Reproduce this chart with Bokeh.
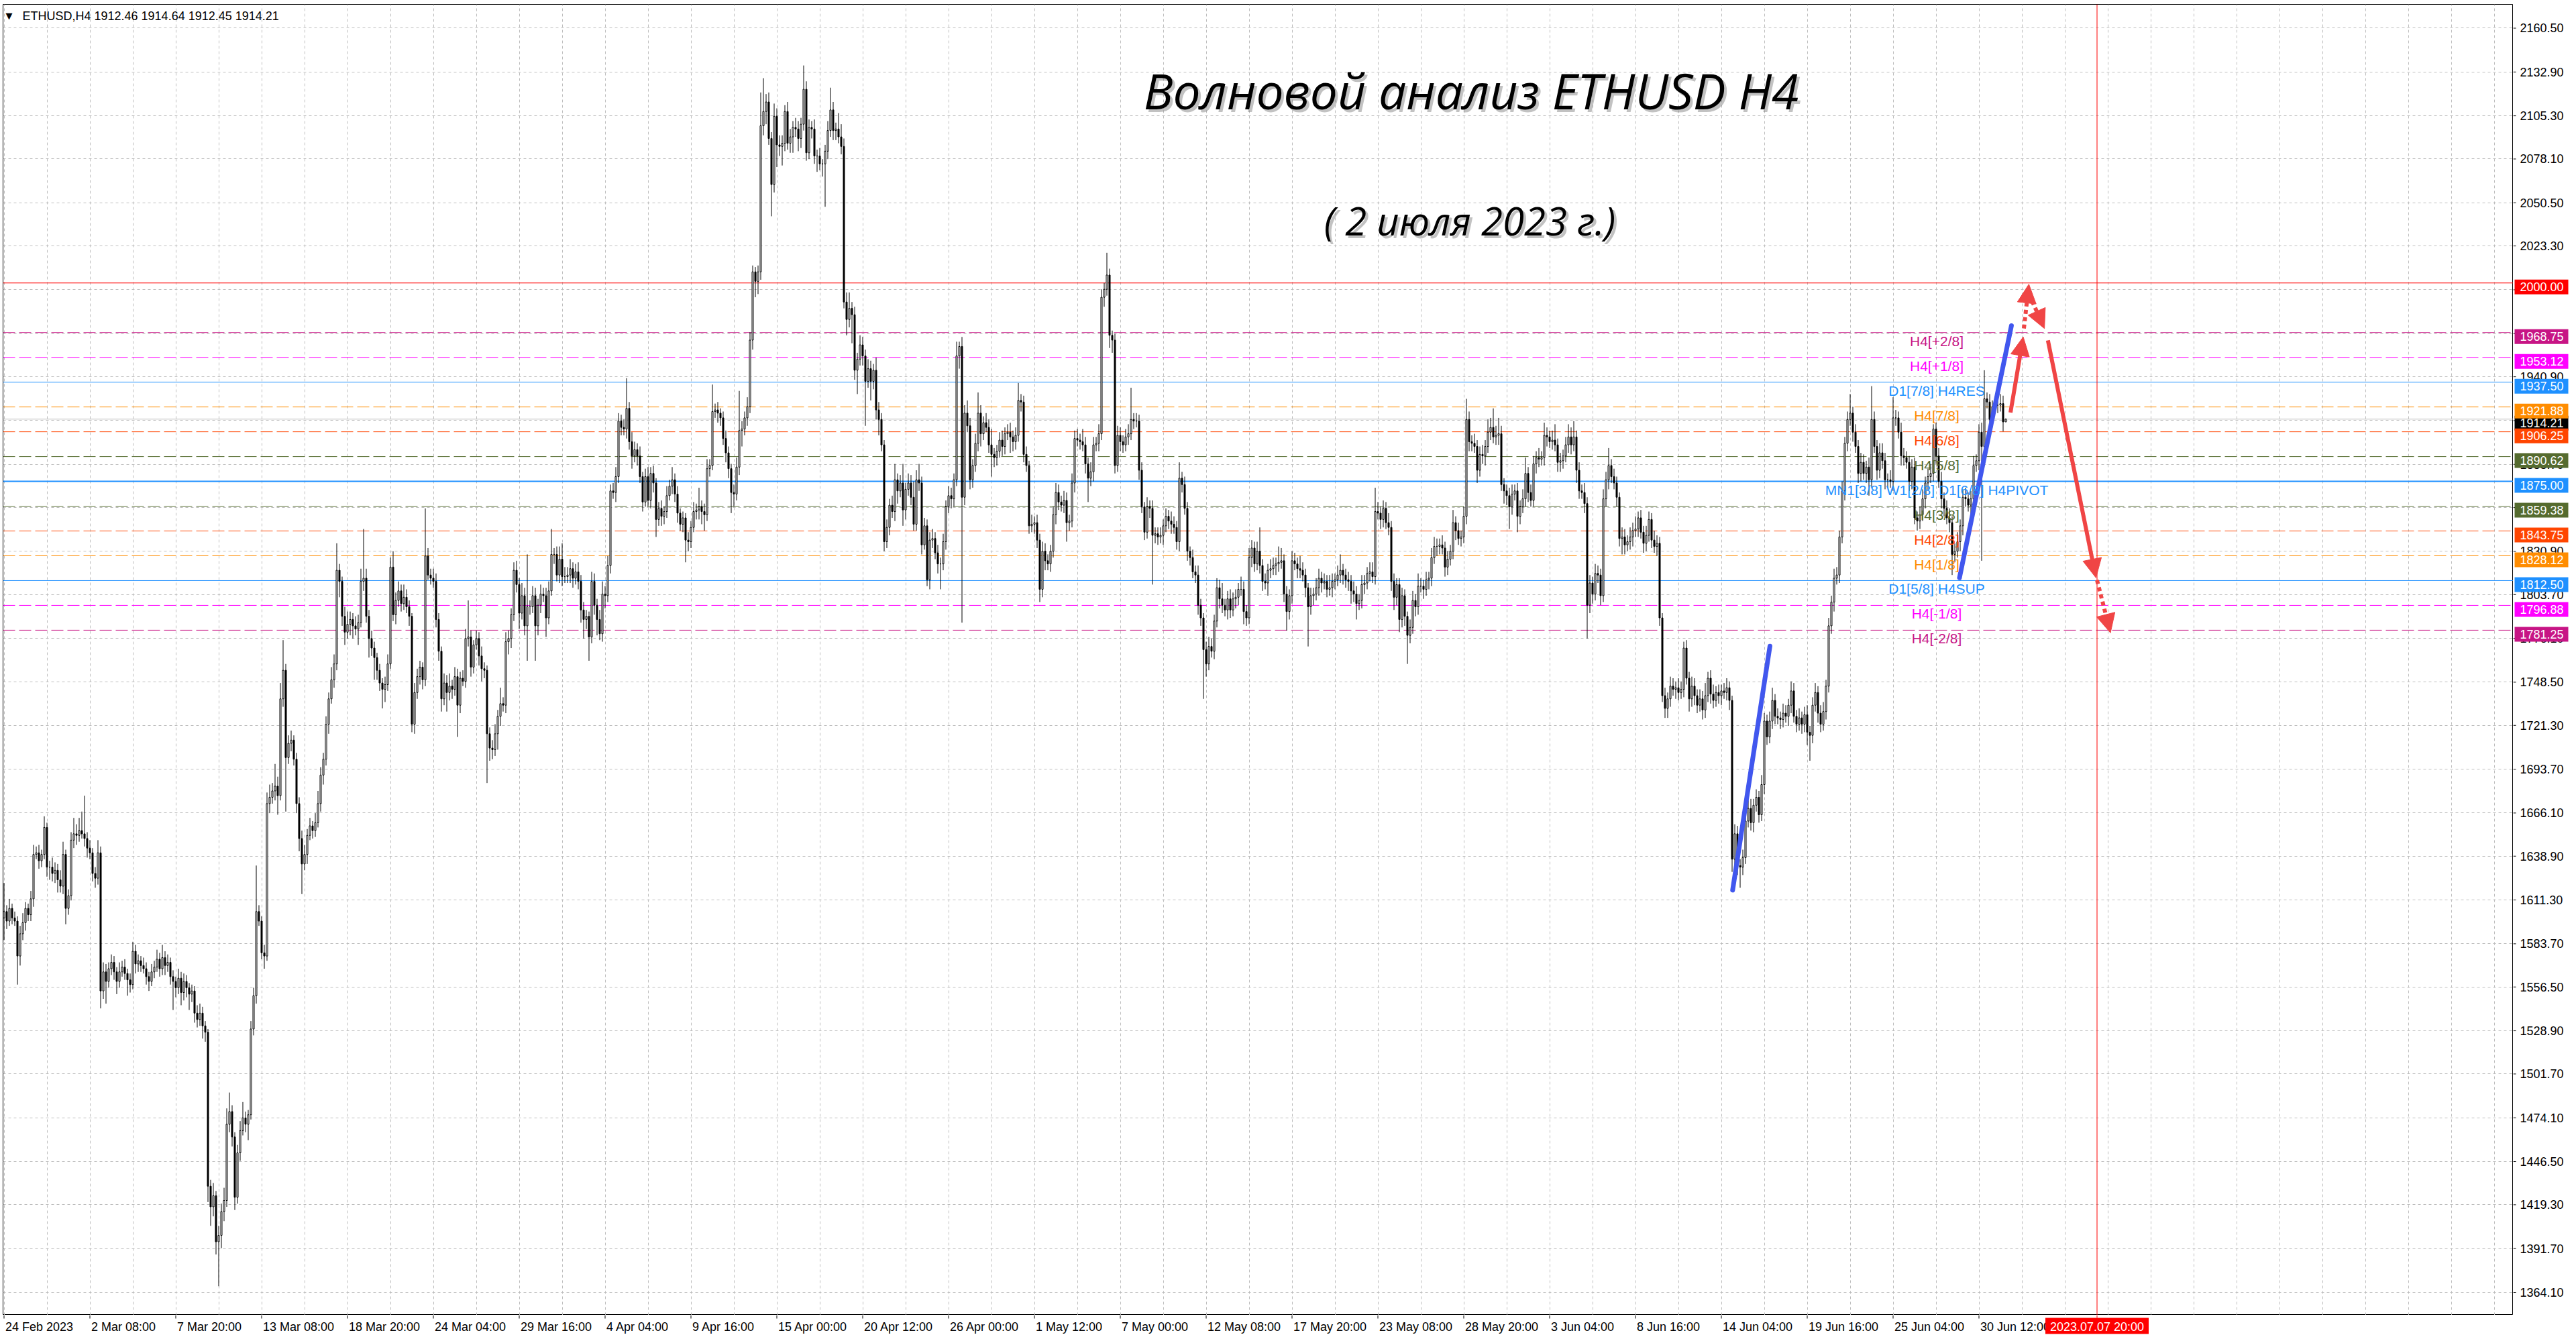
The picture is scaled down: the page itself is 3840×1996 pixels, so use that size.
from bokeh.plotting import figure
from bokeh.models import FixedTicker, Range1d, Span, Label, Arrow, NormalHead, ColumnDataSource
from bokeh.layouts import row, column
from bokeh.core.properties import value
from bokeh.embed import file_html
from bokeh.resources import INLINE

# ---------------- data (ETHUSD H4) ----------------
first_open = 1600
close_a = [1604,1598,1606,1600,1598,1576,1590,1597,1606,1602,
           1612,1640,1641,1636,1640,1657,1632,1632,1628,1630,
           1624,1620,1640,1606,1614,1649,1653,1652,1655,1653,
           1650,1644,1641,1628,1625,1641,1554,1566,1560,1568,
           1572,1566,1560,1566,1569,1565,1561,1558,1579,1571,
           1573,1570,1568,1563,1560,1566,1569,1574,1568,1575,
           1570,1572,1563,1560,1556,1562,1553,1560,1556,1552,
           1554,1540,1536,1540,1532,1528,1431,1418,1425,1396,
           1400,1415,1422,1470,1478,1462,1424,1452,1466,1474,
           1470,1476,1530,1551,1604,1598,1578,1576,1672,1676,
           1680,1683,1677,1738,1756,1701,1710,1712,1700,1672,
           1650,1634,1640,1652,1658,1655,1660,1672,1690,1700,
           1722,1738,1750,1760,1819,1812,1790,1780,1785,1788,
           1784,1782,1786,1812,1814,1790,1776,1770,1764,1756,
           1748,1744,1747,1760,1821,1791,1800,1806,1798,1802]
close_b = [1796,1790,1722,1742,1752,1758,1750,1828,1816,1814,
           1812,1788,1768,1738,1748,1742,1746,1744,1752,1734,
           1751,1749,1776,1777,1758,1772,1776,1765,1757,1756,
           1716,1707,1706,1716,1727,1735,1734,1774,1776,1791,
           1819,1810,1792,1803,1784,1796,1796,1803,1784,1797,
           1804,1803,1789,1806,1829,1829,1816,1826,1815,1815,
           1816,1820,1814,1818,1812,1794,1788,1790,1777,1812,
           1797,1788,1779,1804,1803,1822,1869,1868,1878,1913,
           1909,1908,1921,1900,1891,1895,1891,1878,1862,1878,
           1863,1880,1874,1851,1858,1853,1856,1866,1872,1876,
           1867,1855,1848,1852,1838,1837,1846,1856,1857,1859,
           1856,1854,1883,1885,1919,1920,1918,1915,1902,1893,
           1883,1868,1867,1884,1907,1908,1915,1922,1964,2007,
           2001,2007,2099,2108,2114,2091,2062,2105,2087,2086,
           2088,2108,2088,2092,2098,2097,2091,2100,2122,2082]
close_c = [2098,2097,2080,2080,2075,2075,2083,2096,2109,2096,
           2097,2092,2086,1988,1977,1984,1980,1945,1952,1961,
           1954,1938,1946,1938,1945,1920,1914,1898,1837,1846,
           1860,1856,1876,1869,1874,1857,1870,1874,1865,1848,
           1876,1874,1835,1847,1813,1838,1839,1830,1823,1823,
           1837,1859,1866,1864,1876,1954,1960,1865,1918,1910,
           1876,1885,1899,1918,1905,1912,1909,1898,1892,1890,
           1894,1901,1897,1905,1906,1903,1900,1904,1926,1925,
           1892,1885,1847,1848,1849,1838,1807,1831,1825,1823,
           1831,1854,1868,1862,1860,1863,1849,1850,1874,1902,
           1901,1900,1898,1886,1877,1881,1898,1899,1905,1991,
           1996,2005,1967,1964,1885,1904,1900,1898,1903,1905,
           1914,1913,1913,1882,1859,1843,1859,1858,1841,1842,
           1840,1841,1847,1853,1850,1848,1846,1837,1877,1873,
           1858,1831,1827,1818,1816,1797,1789,1769,1760,1771]
close_d = [1768,1787,1808,1801,1797,1794,1801,1794,1801,1802,
           1807,1807,1793,1789,1827,1833,1823,1831,1822,1812,
           1811,1819,1820,1822,1823,1824,1825,1804,1793,1803,
           1825,1823,1820,1819,1816,1808,1796,1803,1804,1808,
           1814,1811,1812,1807,1808,1812,1813,1816,1819,1816,
           1813,1812,1806,1804,1798,1800,1810,1811,1817,1818,
           1815,1856,1855,1851,1858,1849,1846,1812,1802,1810,
           1788,1803,1790,1778,1783,1800,1796,1809,1809,1807,
           1813,1814,1827,1834,1834,1835,1833,1821,1826,1831,
           1849,1844,1839,1840,1853,1914,1900,1899,1897,1882,
           1892,1891,1897,1906,1909,1903,1904,1905,1873,1869,
           1866,1859,1867,1869,1853,1859,1864,1880,1868,1863,
           1886,1890,1889,1890,1904,1903,1900,1901,1898,1887,
           1888,1891,1898,1903,1898,1903,1882,1869,1868,1861,
           1797,1811,1804,1817,1816,1803,1864,1876,1885,1878]
close_e = [1874,1865,1839,1840,1835,1837,1840,1844,1845,1852,
           1843,1836,1841,1851,1838,1834,1836,1789,1740,1732,
           1738,1746,1744,1745,1742,1744,1770,1751,1738,1746,
           1740,1734,1738,1731,1740,1751,1741,1737,1742,1740,
           1743,1742,1745,1737,1637,1653,1633,1632,1638,1661,
           1669,1660,1671,1676,1665,1684,1724,1714,1724,1737,
           1727,1726,1725,1729,1727,1734,1743,1727,1722,1726,
           1722,1728,1717,1715,1734,1742,1729,1722,1730,1746,
           1784,1799,1814,1816,1840,1869,1899,1914,1918,1906,
           1897,1880,1887,1880,1884,1876,1914,1897,1882,1893,
           1888,1876,1876,1875,1915,1915,1906,1891,1890,1887,
           1875,1884,1852,1850,1854,1864,1874,1878,1880,1908,
           1891,1875,1864,1858,1852,1849,1829,1831,1837,1847,
           1865,1864,1860,1864,1885,1888,1906,1897,1927,1925,
           1914,1922,1923,1923,1924,1912.46,1914.21]

upper_wick_a = [18,4,6,3,4,3,5,6,4,3, 5,6,4,5,3,7,3,4,6,5, 4,6,8,3,4,5,10,6,8,12,
                24,4,5,3,4,8,4,6,5,4, 5,4,3,6,4,5,3,4,6,4, 4,3,5,4,3,5,4,6,4,8,
                4,5,3,4,3,6,4,5,4,3, 4,3,5,6,4,3,2,4,8,3, 6,5,8,10,12,4,3,5,6,10,
                4,3,5,5,29,4,3,5,7,8, 5,14,6,10,19,4,5,6,3,4, 4,5,6,4,5,3,6,8,5,4,
                5,4,8,6,17,4,3,6,8,5, 4,6,5,8,31,6,4,5,4,3, 4,3,5,6,6,10,5,6,4,8]
lower_wick_a = [14,5,3,4,3,18,6,4,5,4, 4,5,3,5,4,3,6,8,5,6, 8,4,5,10,4,3,5,6,4,3,
                5,6,4,5,6,4,11,5,14,4, 4,5,8,4,3,4,10,5,3,6, 5,4,3,5,6,3,4,3,5,4,
                6,4,5,18,6,4,8,5,6,10, 5,6,5,4,8,6,10,12,6,8, 28,8,6,4,5,6,8,4,5,3,
                5,10,3,4,5,3,4,8,3,6, 4,6,12,3,5,34,4,5,4,6, 8,19,4,6,3,5,4,3,5,6,
                4,6,3,5,4,10,6,8,4,7, 8,4,10,3,6,4,12,5,14,6, 5,12,8,4,3,4,6,4,5,4]
upper_wick_b = [5,4,2,6,5,4,3,30,5,4, 6,5,4,3,6,5,8,4,6,5, 4,5,6,23,4,3,5,4,6,4,
                3,4,5,6,4,10,4,6,5,4, 5,6,4,8,5,33,4,6,5,4, 6,4,5,6,16,4,5,8,10,6,
                5,6,4,5,6,4,5,4,3,6, 5,4,6,8,5,6,4,5,6,5, 4,5,19,4,6,5,4,6,3,5,
                6,4,5,3,4,5,3,6,4,8, 4,5,3,4,3,5,4,6,4,12, 4,5,6,4,17,4,5,3,4,5,
                4,3,5,6,25,5,4,6,5,4, 3,4,21,21,5,6,4,8,5,6, 5,4,6,5,4,6,5,4,15,5]
lower_wick_b = [4,6,5,6,4,5,6,4,3,4, 4,5,6,8,4,12,5,6,4,20, 5,3,4,5,6,4,3,6,8,5,
                31,8,6,4,10,6,4,5,8,6, 4,5,10,4,6,22,5,4,22,6, 5,4,12,4,3,6,4,5,6,4,
                4,5,6,4,5,8,12,6,15,4, 6,10,4,5,8,4,5,4,6,4, 5,4,6,5,8,4,6,4,6,3,
                4,5,6,11,4,6,5,4,3,5, 5,6,4,5,14,6,4,3,5,6, 8,10,4,5,3,4,6,5,4,6,
                6,13,8,4,5,10,4,5,4,6, 10,8,5,6,8,4,20,5,14,6, 12,5,4,6,10,5,8,6,4,5]
upper_wick_c = [5,4,6,4,5,3,4,6,14,5, 4,10,8,5,6,10,4,5,4,6, 5,4,6,5,4,8,5,4,3,5,
                4,6,10,4,5,12,4,6,5,10, 6,10,4,5,4,5,6,4,5,4, 5,4,6,5,4,9,3,6,5,8,
                5,4,6,13,5,4,6,5,10,4, 4,5,6,4,5,6,4,5,11,4, 4,5,3,6,4,5,4,6,5,4,
                4,5,6,5,4,6,5,4,6,5, 6,4,8,5,4,6,5,4,6,5, 4,14,4,3,4,6,5,4,5,6,
                20,4,5,4,5,3,6,4,5,4, 4,5,4,5,4,6,5,4,10,4, 5,4,3,5,4,6,4,3,5,6]
lower_wick_c = [4,6,5,10,4,8,27,5,4,6, 6,4,5,4,10,5,18,6,15,4, 6,28,4,12,5,6,10,4,6,4,
                5,4,6,8,4,10,6,4,5,4, 4,5,6,3,4,6,5,4,6,16, 4,5,4,6,5,4,8,79,5,4,
                6,5,4,5,8,4,3,5,14,6, 5,4,6,5,4,10,6,5,4,6, 5,4,5,4,6,5,8,5,6,4,
                5,4,6,5,4,5,12,5,4,6, 4,5,4,6,15,5,6,4,5,4, 6,4,8,8,5,4,6,5,4,5,
                4,5,4,6,4,5,4,6,31,5, 5,4,6,4,5,6,4,5,6,5, 4,6,5,4,5,6,5,31,8,4]
upper_wick_d = [5,4,6,5,10,4,5,6,4,5, 4,8,5,4,6,5,4,6,15,4, 5,4,6,5,4,10,8,4,5,4,
                6,5,4,8,5,4,3,5,4,6, 6,4,5,4,8,5,4,6,10,4, 4,5,4,6,5,4,6,5,4,6,
                6,15,6,4,5,4,6,4,5,4, 4,5,4,3,5,6,4,8,5,4, 5,4,6,6,5,4,6,4,5,4,
                8,4,5,4,6,13,5,4,6,4, 5,6,4,8,6,12,6,10,5,4, 4,5,6,4,5,4,6,10,4,5,
                5,4,6,4,8,5,4,6,10,4, 5,4,5,8,6,10,4,5,4,6, 4,5,4,6,5,4,6,5,11,4]
lower_wick_d = [4,5,4,6,5,4,6,5,4,6, 5,4,8,5,4,6,5,4,5,6, 4,8,5,4,6,5,4,5,12,5,
                5,4,6,5,4,6,25,5,6,4, 5,6,4,5,4,6,5,4,5,6, 5,6,8,5,10,4,5,6,4,5,
                4,5,4,6,5,4,5,6,8,5, 8,5,6,18,5,4,6,5,4,6, 4,6,5,4,6,5,4,6,5,4,
                5,6,4,5,4,5,6,5,4,8, 4,5,6,4,5,4,5,6,4,8, 6,14,5,4,10,5,4,5,6,4,
                4,6,5,4,5,6,4,5,4,6, 6,5,4,5,6,4,8,5,4,6, 21,5,6,4,5,6,4,5,6,4]
upper_wick_e = [5,4,3,6,5,4,6,5,8,4, 5,4,6,5,4,6,5,4,3,5, 4,6,5,4,6,5,4,5,4,6,
                5,4,6,5,8,4,5,6,4,5, 4,5,6,4,3,6,5,4,5,4, 5,6,4,5,4,6,5,4,6,8,
                4,5,4,6,5,4,6,5,4,6, 4,5,6,4,5,6,4,5,6,4, 5,4,6,5,4,6,4,5,12,4,
                5,4,6,5,4,6,21,5,4,6, 6,5,4,6,13,5,4,6,5,4, 4,5,6,4,5,6,4,5,6,3,
                4,5,6,4,5,6,4,5,6,4, 5,6,4,5,6,4,5,6,18,4, 5,4,5,4,6,5,0.43]
lower_wick_e = [4,6,5,10,6,4,5,6,4,5, 4,6,5,4,5,4,6,5,4,6, 6,5,4,6,5,4,5,4,8,5,
                6,5,4,6,5,4,6,5,4,5, 6,4,5,6,8,5,6,13,5,4, 4,5,6,4,5,4,6,5,4,5,
                5,4,6,5,4,6,5,4,5,4, 6,5,8,16,5,4,6,5,4,5, 4,5,6,4,5,4,6,5,4,6,
                4,6,5,4,6,10,5,4,6,5, 5,6,5,4,6,5,4,6,5,4, 6,5,4,6,5,4,6,5,4,5,
                5,4,6,5,4,6,13,5,4,6, 6,5,4,6,5,4,6,72,5,4, 6,5,4,5,4,6,0.01]

date_labels = ["24 Feb 2023", "2 Mar 08:00", "7 Mar 20:00", "13 Mar 08:00", "18 Mar 20:00",
               "24 Mar 04:00", "29 Mar 16:00", "4 Apr 04:00", "9 Apr 16:00", "15 Apr 00:00",
               "20 Apr 12:00", "26 Apr 00:00", "1 May 12:00", "7 May 00:00", "12 May 08:00",
               "17 May 20:00", "23 May 08:00", "28 May 20:00", "3 Jun 04:00", "8 Jun 16:00",
               "14 Jun 04:00", "19 Jun 16:00", "25 Jun 04:00", "30 Jun 12:00"]
date_label_step = 32
price_ticks = [2160.50, 2132.90, 2105.30, 2078.10, 2050.50, 2023.30, 1995.70, 1968.10, 1940.90,
               1913.30, 1885.70, 1858.50, 1830.90, 1803.70, 1776.10, 1748.50, 1721.30, 1693.70,
               1666.10, 1638.90, 1611.30, 1583.70, 1556.50, 1528.90, 1501.70, 1474.10, 1446.50,
               1419.30, 1391.70, 1364.10]

# horizontal levels: price, colour, dash, width
level_prices = [2000.00, 1968.75, 1953.12, 1937.50, 1921.88, 1914.21, 1906.25, 1890.62,
                1875.00, 1859.38, 1843.75, 1828.12, 1812.50, 1796.88, 1781.25]
level_colors = ["#FF0000", "#C71585", "#FF00FF", "#1E90FF", "#FF8C00", "#C0C0C0", "#FF4500",
                "#556B2F", "#1E90FF", "#556B2F", "#FF4500", "#FF8C00", "#1E90FF", "#FF00FF", "#C71585"]
level_box_colors = ["#FF0000", "#C71585", "#FF00FF", "#1E90FF", "#FF8C00", "#000000", "#FF4500",
                    "#556B2F", "#1E90FF", "#556B2F", "#FF4500", "#FF8C00", "#1E90FF", "#FF00FF", "#C71585"]
level_dashed = [False, True, True, False, True, False, True, True, False, True, True, True, False, True, True]
level_widths = [1, 1, 1, 1, 1, 1, 1, 1, 2, 1, 1, 1, 1, 1, 1]

murrey_texts = ["H4[+2/8]", "H4[+1/8]", "D1[7/8] H4RES", "H4[7/8]", "H4[6/8]", "H4[5/8]",
                "MN1[3/8] W1[2/8] D1[6/8] H4PIVOT", "H4[3/8]", "H4[2/8]", "H4[1/8]",
                "D1[5/8] H4SUP", "H4[-1/8]", "H4[-2/8]"]
murrey_prices = [1968.75, 1953.12, 1937.50, 1921.88, 1906.25, 1890.62, 1875.00, 1859.38,
                 1843.75, 1828.12, 1812.50, 1796.88, 1781.25]
murrey_colors = ["#C71585", "#FF00FF", "#1E90FF", "#FF8C00", "#FF4500", "#556B2F", "#1E90FF",
                 "#556B2F", "#FF4500", "#FF8C00", "#1E90FF", "#FF00FF", "#C71585"]
murrey_bar = 720.25

# drawn wave lines (bar index, price)
wave1_x = [644.2, 658.1]
wave1_y = [1617.5, 1771.2]
wave2_x = [728.75, 748.1]
wave2_y = [1814.3, 1973.1]
# forecast arrows
arrow_x0 = [747.75, 752.75, 755.8, 761.7, 780.0]
arrow_y0 = [1918.4, 1971.3, 1988.6, 1963.8, 1812.8]
arrow_x1 = [752.5, 754.6, 760.4, 779.6, 785.0]
arrow_y1 = [1966.0, 1999.2, 1971.3, 1814.3, 1779.6]
arrow_dotted = [False, True, True, False, True]
forecast_bar = 780
forecast_label = "2023.07.07 20:00"
header_text = "ETHUSD,H4  1912.46 1914.64 1912.45 1914.21"
title_text = "Волновой анализ ETHUSD H4"
subtitle_text = "( 2 июля 2023 г.)"

# ---------------- build OHLC ----------------
close = close_a + close_b + close_c + close_d + close_e
upper_wick = upper_wick_a + upper_wick_b + upper_wick_c + upper_wick_d + upper_wick_e
lower_wick = lower_wick_a + lower_wick_b + lower_wick_c + lower_wick_d + lower_wick_e
n = min(len(close), len(upper_wick), len(lower_wick))
close = close[:n]
opens = [first_open] + close[:-1]
bars = list(range(n))
highs = [max(o, c) + u for o, c, u in zip(opens, close, upper_wick)]
lows = [min(o, c) - l for o, c, l in zip(opens, close, lower_wick)]
tops = [max(o, c) for o, c in zip(opens, close)]
bottoms = [min(o, c) for o, c in zip(opens, close)]
fills = ["white" if c >= o else "black" for o, c in zip(opens, close)]
src = ColumnDataSource(dict(x=bars, high=highs, low=lows, top=tops, bottom=bottoms, fill=fills))

# ---------------- layout constants ----------------
LEFT, TOP = 4, 6
FRAME_W, FRAME_H = 3742, 1954
SCALE_W, TIME_H = 94, 36
BAR_PX = 4.0
UI_FONT = "Liberation Sans"
UI_SIZE = "18px"
x_range = Range1d(-0.375, -0.375 + FRAME_W / BAR_PX)
y_range = Range1d(1349.74, 2175.50)
px_per_price = FRAME_H / (y_range.end - y_range.start)

# ---------------- main chart ----------------
p = figure(frame_width=FRAME_W, frame_height=FRAME_H, x_range=x_range, y_range=y_range,
           output_backend="svg", toolbar_location=None,
           x_axis_location=None, y_axis_location=None,
           min_border=0, min_border_left=LEFT, min_border_top=TOP,
           background_fill_color="white", border_fill_color="white",
           outline_line_color="black", outline_line_width=1)
p.xgrid.ticker = FixedTicker(ticks=list(range(0, 936, 16)))
p.ygrid.ticker = FixedTicker(ticks=price_ticks)
for g in (p.xgrid, p.ygrid):
    g.grid_line_color = "#BDBDBD"
    g.grid_line_dash = "4 4"
    g.grid_line_width = 1

for price, col, dashed, w in zip(level_prices, level_colors, level_dashed, level_widths):
    p.add_layout(Span(location=price, dimension="width", line_color=col, line_width=w,
                      line_dash="18 6" if dashed else "solid", level="underlay"))
p.add_layout(Span(location=forecast_bar, dimension="height", line_color="#FF0000",
                  line_width=1, level="underlay"))

p.segment(x0="x", y0="high", x1="x", y1="low", source=src, line_color="black", line_width=1)
p.vbar(x="x", width=0.5, top="top", bottom="bottom", source=src,
       fill_color="fill", line_color="black", line_width=1)

for t, pr, col in zip(murrey_texts, murrey_prices, murrey_colors):
    p.add_layout(Label(x=murrey_bar, y=pr, text=t, text_color=col, text_font="Liberation Sans",
                       text_font_size="21px", text_align="center", text_baseline="top", y_offset=-1))

p.line(wave1_x, wave1_y, line_color="#4157EE", line_width=7, line_cap="round")
p.line(wave2_x, wave2_y, line_color="#4157EE", line_width=7, line_cap="round")

for x0, y0, x1, y1, dotted in zip(arrow_x0, arrow_y0, arrow_x1, arrow_y1, arrow_dotted):
    p.add_layout(Arrow(x_start=x0, y_start=y0, x_end=x1, y_end=y1,
                       line_color="#F04545", line_width=6,
                       line_dash="6 5" if dotted else "solid",
                       end=NormalHead(size=28, fill_color="#F04545", line_color="#F04545")))

p.add_layout(Label(x=4, y=FRAME_H - 9, x_units="screen", y_units="screen", text="▼",
                   text_font="DejaVu Sans", text_font_size="13px", text_baseline="top",
                   text_color="black"))
p.add_layout(Label(x=29, y=FRAME_H - 7, x_units="screen", y_units="screen", text=header_text,
                   text_font=UI_FONT, text_font_size=UI_SIZE, text_baseline="top",
                   text_color="black"))

for dx, dy, col, alpha in [(4, -4, "#777777", 0.45), (0, 0, "black", 1.0)]:
    p.add_layout(Label(x=546.75, y=2121.4, x_offset=dx, y_offset=dy, text=title_text,
                       text_font="Open Sans", text_font_style="italic", text_font_size="73px",
                       text_align="center", text_baseline="middle", text_color=col,
                       text_alpha=alpha))
    p.add_layout(Label(x=546.25, y=2039.4, x_offset=dx, y_offset=dy, text=subtitle_text,
                       text_font="Open Sans", text_font_style="italic", text_font_size="58px",
                       text_align="center", text_baseline="middle", text_color=col,
                       text_alpha=alpha))

# ---------------- price scale (right) ----------------
ps = figure(frame_width=SCALE_W, frame_height=FRAME_H, x_range=Range1d(0, SCALE_W), y_range=y_range,
            output_backend="svg", toolbar_location=None,
            x_axis_location=None, y_axis_location=None,
            min_border=0, min_border_top=TOP,
            background_fill_color="white", border_fill_color="white", outline_line_color=None)
ps.grid.visible = False
tick_src = ColumnDataSource(dict(y=price_ticks, label=["%.2f" % t for t in price_ticks]))
ps.segment(x0=0, y0="y", x1=4, y1="y", source=tick_src, line_color="black", line_width=1)
ps.text(x=10, y="y", text="label", source=tick_src, text_font=value(UI_FONT),
        text_font_size=UI_SIZE, text_color="black", text_align="left", text_baseline="middle")

order = [5] + [i for i in range(len(level_prices)) if i != 5]
box_shift = 6 / px_per_price
box_src = ColumnDataSource(dict(
    y=[level_prices[i] - box_shift for i in order],
    label=["%.2f" % level_prices[i] for i in order],
    color=[level_box_colors[i] for i in order]))
ps.rect(x=42, y="y", width=80, height=22, height_units="screen", source=box_src,
        fill_color="color", line_color=None)
ps.text(x=10, y="y", text="label", source=box_src, text_font=value(UI_FONT),
        text_font_size=UI_SIZE, text_color="white", text_align="left", text_baseline="middle")

# ---------------- time scale (bottom) ----------------
ts = figure(frame_width=FRAME_W, frame_height=TIME_H, x_range=x_range, y_range=Range1d(TIME_H, 0),
            output_backend="svg", toolbar_location=None,
            x_axis_location=None, y_axis_location=None,
            min_border=0, min_border_left=LEFT,
            background_fill_color="white", border_fill_color="white", outline_line_color=None)
ts.grid.visible = False
date_ticks = [date_label_step * k for k in range(len(date_labels))]
date_src = ColumnDataSource(dict(x=date_ticks, label=date_labels))
ts.segment(x0="x", y0=0, x1="x", y1=5, source=date_src, line_color="black", line_width=1)
ts.text(x="x", y=17, text="label", source=date_src, x_offset=2, text_font=value(UI_FONT),
        text_font_size=UI_SIZE, text_color="black", text_align="left", text_baseline="middle")
ts.rect(x=forecast_bar, y=16, width=154, height=24, width_units="screen", height_units="screen",
        fill_color="#FF0000", line_color=None)
ts.text(x=forecast_bar, y=17, text=[forecast_label], text_font=value(UI_FONT),
        text_font_size=UI_SIZE, text_color="white", text_align="center", text_baseline="middle")
ts.segment(x0=[forecast_bar], y0=[0], x1=[forecast_bar], y1=[4], line_color="#FF0000", line_width=1)

layout = column(row(p, ps), ts)
open("out.html", "w").write(file_html(layout, INLINE))
